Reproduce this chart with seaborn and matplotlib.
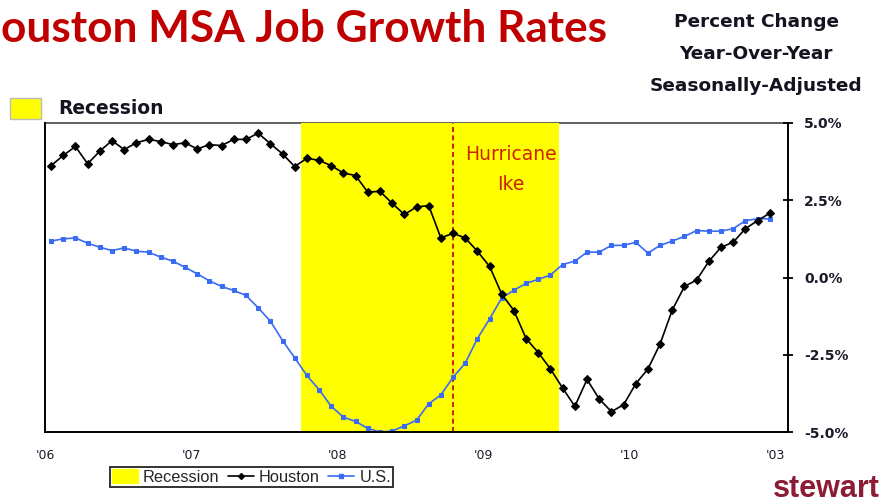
import numpy as np
import pandas as pd
import matplotlib
matplotlib.use("Agg")
import matplotlib.pyplot as plt
from matplotlib.patches import Patch, Rectangle
from matplotlib.lines import Line2D
import seaborn as sns

# ---------------- data (monthly, Jan 2006 .. Dec 2010) ----------------
houston = [3.62, 3.95, 4.24, 3.68, 4.09, 4.43, 4.14, 4.36, 4.47, 4.40, 4.30, 4.36,
           4.16, 4.30, 4.27, 4.47, 4.47, 4.67, 4.33, 4.00, 3.59, 3.86, 3.79, 3.62,
           3.38, 3.30, 2.76, 2.79, 2.40, 2.04, 2.28, 2.33, 1.28, 1.43, 1.28, 0.85,
           0.36, -0.54, -1.07, -1.98, -2.43, -2.96, -3.58, -4.17, -3.30, -3.93, -4.34, -4.12,
           -3.44, -2.96, -2.15, -1.05, -0.29, -0.08, 0.52, 0.98, 1.14, 1.58, 1.84, 2.08]
us = [1.18, 1.25, 1.28, 1.11, 0.98, 0.87, 0.96, 0.85, 0.82, 0.66, 0.53, 0.33,
      0.12, -0.11, -0.29, -0.42, -0.58, -0.98, -1.41, -2.04, -2.60, -3.17, -3.63, -4.17,
      -4.52, -4.66, -4.88, -5.00, -4.97, -4.80, -4.62, -4.09, -3.80, -3.23, -2.77, -1.98,
      -1.34, -0.66, -0.41, -0.19, -0.06, 0.08, 0.42, 0.53, 0.82, 0.82, 1.04, 1.04,
      1.14, 0.79, 1.04, 1.18, 1.33, 1.52, 1.50, 1.50, 1.58, 1.84, 1.90, 1.90]
year_labels = ["'06", "'07", "'08", "'09", "'10", "'03"]
y_ticks = [-5.0, -2.5, 0.0, 2.5, 5.0]
y_tick_labels = ["-5.0%", "-2.5%", "0.0%", "2.5%", "5.0%"]
recession_start, recession_end = 21.0, 42.2   # in months from Jan 2006
ike_month = 33.5

month_pos = np.arange(len(houston)) + 0.5
df = pd.DataFrame({"month": np.concatenate([month_pos, month_pos]),
                   "value": houston + us,
                   "series": ["Houston"] * len(houston) + ["U.S."] * len(us)})

# ---------------- figure ----------------
sns.set_style("white")
plt.rcParams["font.family"] = ["DejaVu Sans"]

W, H = 884, 504
fig = plt.figure(figsize=(W / 100, H / 100), dpi=100)
fig.patch.set_facecolor("white")
ax = fig.add_axes([45 / W, 1 - 432 / H, (788 - 45) / W, (432 - 123) / H])

YELLOW = "#FFFF00"
BLACK = "#000000"
BLUE = "#3A6BF5"

ax.axvspan(recession_start, recession_end, color=YELLOW, zorder=1, lw=0)
ax.axvline(ike_month, color="#C00000", lw=1.2, ls=(0, (3, 2)), zorder=2)

sns.lineplot(data=df[df.series == "U.S."], x="month", y="value", ax=ax,
             color=BLUE, lw=1.2, marker="s", markersize=3.4,
             markeredgecolor=BLUE, zorder=3, legend=False)
sns.lineplot(data=df[df.series == "Houston"], x="month", y="value", ax=ax,
             color=BLACK, lw=1.2, marker="D", markersize=3.9,
             markeredgecolor=BLACK, zorder=4, legend=False)

ax.set_xlim(0, 61)
ax.set_ylim(-5, 5)
ax.set_xlabel("")
ax.set_ylabel("")

ax.set_xticks(np.arange(0, 61, 12))
ax.set_xticklabels(year_labels, fontsize=9, color="#1a1a2a")
ax.yaxis.tick_right()
ax.set_yticks(y_ticks)
ax.set_yticklabels(y_tick_labels, fontsize=10, fontweight="bold", color="#1a1a2a")
ax.tick_params(axis="x", direction="inout", length=7, width=1.3, color="black", pad=9)
ax.tick_params(axis="y", direction="inout", length=7, width=1.3, color="black", pad=8,
               right=True, left=False)

for side in ["left", "right", "bottom"]:
    ax.spines[side].set_visible(True)
    ax.spines[side].set_color("black")
    ax.spines[side].set_linewidth(1.4)
    ax.spines[side].set_zorder(5)
ax.spines["top"].set_visible(False)
ax.axhline(5, color="#444444", lw=1.2, zorder=0.5, clip_on=False)
ax.grid(False)

# Hurricane Ike label
fig.text(511 / W, 1 - 155 / H, "Hurricane", ha="center", va="center",
         fontsize=13.5, color="#CC2200")
fig.text(511 / W, 1 - 184 / H, "Ike", ha="center", va="center",
         fontsize=13.5, color="#CC2200")

# Title (left part cut off as in the original)
fig.text(1 / W, 1 - 29 / H, "ouston MSA Job Growth Rates", ha="left", va="center",
         fontsize=31.8, color="#C00000", family=["Lato", "DejaVu Sans"], fontweight="bold")

# Right subtitle
for txt, yy in [("Percent Change", 22), ("Year-Over-Year", 54), ("Seasonally-Adjusted", 86)]:
    fig.text(756 / W, 1 - yy / H, txt, ha="center", va="center",
             fontsize=13.3, fontweight="bold", color="#141420")

# Top-left recession key
fig.patches.append(Rectangle((10 / W, 1 - 119 / H), 31 / W, 21 / H,
                             transform=fig.transFigure, facecolor=YELLOW,
                             edgecolor="#BBBBBB", lw=1))
fig.text(58 / W, 1 - 108 / H, "Recession", ha="left", va="center",
         fontsize=13.4, fontweight="bold", color="#141420")

# Bottom legend
handles = [Patch(facecolor=YELLOW, edgecolor=YELLOW, label="Recession"),
           Line2D([], [], color=BLACK, lw=1.2, marker="D", markersize=3, label="Houston"),
           Line2D([], [], color=BLUE, lw=1.2, marker="s", markersize=2.6, label="U.S.")]
leg = fig.legend(handles=handles, loc="center", bbox_to_anchor=(251.5 / W, 1 - 477 / H),
                 ncol=3, frameon=True, fancybox=False, edgecolor="black",
                 prop={"family": "Liberation Sans", "size": 11.8},
                 handlelength=1.6, handleheight=0.9, handletextpad=0.3,
                 columnspacing=0.5, borderpad=0.15, borderaxespad=0)
leg.get_frame().set_linewidth(1.4)

# Logo
fig.text(880 / W, 1 - 489 / H, "stewart", ha="right", va="center",
         fontsize=22, fontweight="bold", color="#8C1C35", family=["Liberation Sans"])

fig.savefig("out.png", dpi=100)
